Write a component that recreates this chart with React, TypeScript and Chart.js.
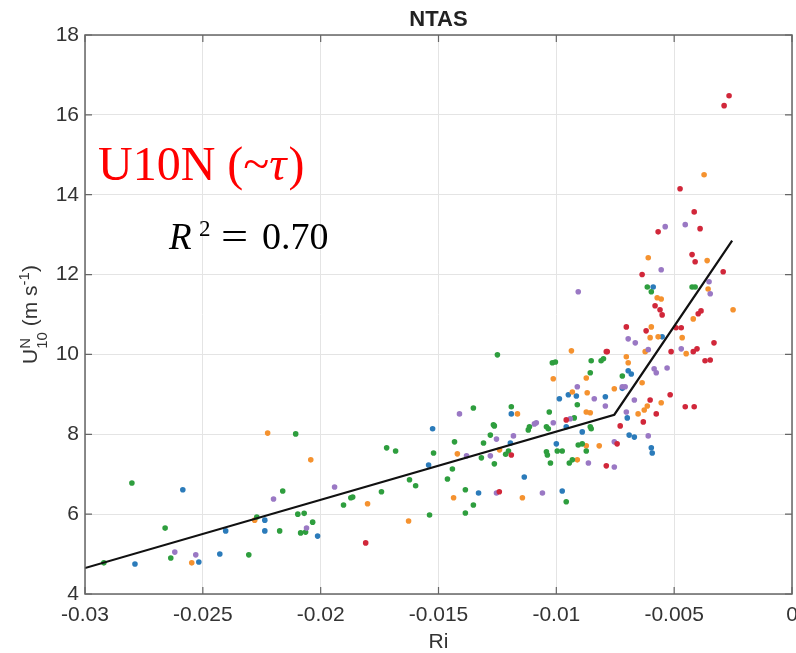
import React, { useEffect, useRef } from "react";
import { Chart, registerables } from "chart.js";

Chart.register(...registerables);

const chartTitle = "NTAS";
const xAxisLabel = "Ri";
const annotationMain = "U10N (~";
const annotationTau = "τ";
const annotationR2 = "0.70";
const xMin = -0.03;
const xMax = 0;
const xStep = 0.005;
const yMin = 4;
const yMax = 18;
const yStep = 2;

const blueRi = [-0.02585, -0.02237, -0.02237, -0.02403, -0.02013, -0.02517, -0.02428, -0.02788, -0.01525, -0.01542, -0.0133, -0.00949, -0.00915, -0.00987, -0.00792, -0.01191, -0.00958, -0.0089, -0.01195, -0.01, -0.01136, -0.00975, -0.00551, -0.00695, -0.00682, -0.0072, -0.00699, -0.00691, -0.00669, -0.00597, -0.00593, -0.00589];
const blueU = [6.61, 5.85, 5.58, 5.58, 5.45, 4.8, 5.0, 4.75, 8.14, 7.23, 6.53, 8.99, 8.96, 8.89, 8.94, 8.51, 8.19, 8.06, 7.78, 7.76, 6.93, 6.58, 10.44, 9.59, 9.51, 9.15, 8.41, 7.98, 7.93, 7.66, 7.53, 11.69];

const orangeRi = [-0.02225, -0.02042, -0.0228, -0.02547, -0.0142, -0.01801, -0.01436, -0.01627, -0.00936, -0.00873, -0.01013, -0.00932, -0.00869, -0.00754, -0.01165, -0.00873, -0.00856, -0.00873, -0.00818, -0.00911, -0.01144, -0.0025, -0.00419, -0.00597, -0.00602, -0.00568, -0.00466, -0.00623, -0.00449, -0.00703, -0.00695, -0.00636, -0.00555, -0.00614, -0.00627, -0.00653, -0.00373, -0.0061, -0.0036, -0.00356, -0.00572, -0.00555, -0.01241];
const orangeU = [8.03, 7.36, 5.85, 4.78, 7.51, 6.26, 6.41, 5.83, 10.09, 9.41, 9.39, 9.06, 9.04, 9.14, 8.51, 8.56, 8.54, 7.71, 7.71, 7.36, 6.41, 11.12, 10.89, 10.69, 10.42, 10.44, 10.42, 10.07, 10.02, 9.94, 9.79, 9.29, 8.79, 8.71, 8.61, 8.51, 14.5, 12.42, 12.35, 11.64, 11.42, 11.39, 7.61];

const greenRi = [-0.02106, -0.02801, -0.02161, -0.0266, -0.02271, -0.02174, -0.02097, -0.0207, -0.02034, -0.02085, -0.02064, -0.02636, -0.02305, -0.0292, -0.01352, -0.01263, -0.0128, -0.01432, -0.01309, -0.0172, -0.01682, -0.01521, -0.01318, -0.01263, -0.01441, -0.01623, -0.01597, -0.01462, -0.01864, -0.01872, -0.01742, -0.01903, -0.01386, -0.01352, -0.01386, -0.01538, -0.0125, -0.01017, -0.01004, -0.00852, -0.0081, -0.008, -0.00856, -0.00911, -0.01191, -0.0103, -0.00924, -0.01114, -0.01119, -0.01042, -0.01034, -0.00856, -0.00852, -0.01267, -0.01042, -0.01038, -0.00996, -0.00975, -0.00907, -0.0089, -0.00873, -0.00945, -0.00932, -0.01025, -0.00958, -0.01203, -0.01215, -0.0072, -0.00614, -0.00597, -0.00424, -0.00411];
const greenU = [8.01, 6.78, 6.58, 5.65, 5.93, 5.58, 6.0, 6.02, 5.8, 5.53, 5.55, 4.9, 4.98, 4.78, 8.66, 8.21, 7.98, 7.81, 7.78, 7.66, 7.58, 7.53, 7.41, 7.26, 7.13, 6.86, 6.71, 6.88, 6.43, 6.41, 6.56, 6.23, 6.61, 6.23, 6.03, 5.98, 9.99, 9.79, 9.81, 9.84, 9.84, 9.89, 9.54, 8.74, 8.69, 8.56, 8.41, 8.19, 8.11, 8.19, 8.14, 8.19, 8.14, 8.24, 7.56, 7.48, 7.58, 7.58, 7.73, 7.76, 7.58, 7.28, 7.36, 7.28, 6.31, 7.58, 7.5, 9.46, 11.69, 11.57, 11.69, 11.69];

const purpleRi = [-0.01941, -0.022, -0.0206, -0.02619, -0.0253, -0.01411, -0.01254, -0.01381, -0.0128, -0.01254, -0.00911, -0.00839, -0.00792, -0.00941, -0.01093, -0.01085, -0.01013, -0.01182, -0.00754, -0.00864, -0.00754, -0.01059, -0.00907, -0.00695, -0.00665, -0.0061, -0.0047, -0.00585, -0.00576, -0.0053, -0.0072, -0.00708, -0.00669, -0.00703, -0.0061, -0.00538, -0.00453, -0.00555, -0.00352, -0.00347];
const purpleU = [6.68, 6.38, 5.65, 5.05, 4.98, 8.51, 7.88, 7.46, 7.46, 6.53, 9.19, 8.89, 8.71, 8.39, 8.26, 8.29, 8.29, 7.96, 7.81, 7.28, 7.18, 6.53, 11.57, 10.39, 10.29, 10.12, 10.14, 9.64, 9.54, 9.66, 9.19, 9.19, 8.86, 8.56, 7.96, 13.2, 13.25, 12.12, 11.82, 11.52];

const redRi = [-0.01809, -0.00784, -0.00958, -0.01191, -0.00788, -0.00581, -0.0056, -0.00551, -0.00398, -0.00386, -0.00703, -0.00619, -0.00492, -0.0047, -0.00331, -0.00513, -0.00419, -0.00403, -0.00369, -0.00347, -0.00788, -0.00517, -0.00602, -0.00576, -0.00453, -0.00415, -0.00631, -0.00729, -0.00742, -0.00267, -0.00288, -0.00475, -0.00415, -0.0039, -0.00568, -0.00424, -0.00411, -0.00636, -0.00292, -0.01242];
const redU = [5.28, 10.07, 8.36, 7.48, 7.21, 11.22, 11.12, 10.99, 11.02, 11.09, 10.69, 10.59, 10.67, 10.67, 10.29, 10.07, 10.07, 10.14, 9.84, 9.86, 10.07, 8.99, 8.86, 8.51, 8.69, 8.69, 8.31, 8.21, 7.76, 16.48, 16.23, 14.15, 13.57, 13.15, 13.07, 12.5, 12.32, 12.0, 12.07, 6.56];

const fitRi = [-0.03, -0.00754, -0.00254];
const fitU = [4.65, 8.49, 12.85];

const COLORS = {
  blue: "#2b7bba",
  orange: "#f5922f",
  green: "#2e9e3e",
  purple: "#9a78c4",
  red: "#d1273a",
};

function pts(xs: number[], ys: number[]) {
  return xs.map((x, i) => ({ x, y: ys[i] }));
}

function fmt(v: number) {
  const r = Math.round(v * 1000) / 1000;
  if (Math.abs(r) < 1e-12) return "0";
  return String(r);
}

const drawPlugin = {
  id: "customDraw",
  afterDraw(chart: any) {
    const ctx = chart.ctx as CanvasRenderingContext2D;
    const { left, right, top, bottom } = chart.chartArea;
    const xs = chart.scales.x;
    const ys = chart.scales.y;
    ctx.save();
    ctx.strokeStyle = "#666666";
    ctx.lineWidth = 1.5;
    ctx.strokeRect(left, top, right - left, bottom - top);
    ctx.lineWidth = 1.2;
    const tl = 7;
    xs.ticks.forEach((t: any) => {
      const px = xs.getPixelForValue(t.value);
      ctx.beginPath();
      ctx.moveTo(px, bottom);
      ctx.lineTo(px, bottom - tl);
      ctx.moveTo(px, top);
      ctx.lineTo(px, top + tl);
      ctx.stroke();
    });
    ys.ticks.forEach((t: any) => {
      const py = ys.getPixelForValue(t.value);
      ctx.beginPath();
      ctx.moveTo(left, py);
      ctx.lineTo(left + tl, py);
      ctx.moveTo(right, py);
      ctx.lineTo(right - tl, py);
      ctx.stroke();
    });

    ctx.fillStyle = "#222222";
    ctx.font = "bold 22px 'Liberation Sans', Arial, sans-serif";
    ctx.textAlign = "center";
    ctx.textBaseline = "alphabetic";
    ctx.fillText(chartTitle, (left + right) / 2, 26);

    ctx.fillStyle = "#333333";
    ctx.font = "21px 'Liberation Sans', Arial, sans-serif";
    ctx.fillText(xAxisLabel, (left + right) / 2, 648);

    ctx.save();
    ctx.translate(37, (top + bottom) / 2);
    ctx.rotate(-Math.PI / 2);
    ctx.textAlign = "left";
    const big = "21px 'Liberation Sans', Arial, sans-serif";
    const small = "15px 'Liberation Sans', Arial, sans-serif";
    ctx.font = big;
    const wU = ctx.measureText("U").width;
    const wMid = ctx.measureText(" (m s").width;
    const wClose = ctx.measureText(")").width;
    ctx.font = small;
    const wN = ctx.measureText("N").width;
    const w10 = ctx.measureText("10").width;
    const wSup = ctx.measureText("-1").width;
    const wStack = Math.max(wN, w10);
    const total = wU + wStack + wMid + wSup + wClose;
    let cx = -total / 2;
    ctx.font = big;
    ctx.fillText("U", cx, 0);
    cx += wU;
    ctx.font = small;
    ctx.fillText("N", cx, -7);
    ctx.fillText("10", cx, 10);
    cx += wStack;
    ctx.font = big;
    ctx.fillText(" (m s", cx, 0);
    cx += wMid;
    ctx.font = small;
    ctx.fillText("-1", cx, -8);
    cx += wSup;
    ctx.font = big;
    ctx.fillText(")", cx, 0);
    ctx.restore();

    // annotations
    ctx.textAlign = "left";
    ctx.fillStyle = "#ff0000";
    const serif = "'Liberation Serif', 'Times New Roman', serif";
    ctx.font = "48px " + serif;
    let ax = 98;
    ctx.fillText(annotationMain, ax, 180);
    ax += ctx.measureText(annotationMain).width;
    ctx.font = "italic 48px " + serif;
    ctx.fillText(annotationTau, ax, 180);
    ax += ctx.measureText(annotationTau).width + 2;
    ctx.font = "48px " + serif;
    ctx.fillText(")", ax, 180);

    ctx.fillStyle = "#000000";
    ctx.font = "italic 37px " + serif;
    ctx.fillText("R", 169, 249);
    ctx.font = "23px " + serif;
    ctx.fillText("2", 199, 236);
    ctx.font = "37px " + serif;
    ctx.save();
    ctx.translate(221, 249);
    ctx.scale(1.3, 1);
    ctx.fillText("=", 0, 0);
    ctx.restore();
    ctx.font = "38px " + serif;
    ctx.fillText(annotationR2, 262, 249);

    ctx.restore();
  },
};

export default function App() {
  const ref = useRef<HTMLCanvasElement | null>(null);
  useEffect(() => {
    if (!ref.current) return;
    const mk = (xs: number[], ys: number[], c: string) => ({
      type: "scatter" as const,
      data: pts(xs, ys),
      backgroundColor: c,
      borderColor: c,
      pointRadius: 2.8,
      pointBorderWidth: 0,
      showLine: false,
    });
    const chart = new Chart(ref.current, {
      type: "scatter",
      data: {
        datasets: [
          {
            type: "line" as const,
            data: pts(fitRi, fitU),
            borderColor: "#111111",
            borderWidth: 2.2,
            pointRadius: 0,
            fill: false,
            tension: 0,
            order: 0,
          } as any,
          { ...mk(blueRi, blueU, COLORS.blue), order: 5 },
          { ...mk(orangeRi, orangeU, COLORS.orange), order: 4 },
          { ...mk(greenRi, greenU, COLORS.green), order: 3 },
          { ...mk(purpleRi, purpleU, COLORS.purple), order: 2 },
          { ...mk(redRi, redU, COLORS.red), order: 1 },
        ],
      },
      options: {
        animation: false,
        responsive: false,
        maintainAspectRatio: false,
        layout: { padding: { top: 35, right: 3, left: 0, bottom: 0 } },
        plugins: {
          legend: { display: false },
          tooltip: { enabled: false },
          title: { display: false },
        },
        scales: {
          x: {
            type: "linear",
            min: xMin,
            max: xMax,
            afterBuildTicks: (scale: any) => {
              const t = [];
              for (let v = xMin; v <= xMax + 1e-9; v += xStep) t.push({ value: Math.round(v * 1000) / 1000 });
              scale.ticks = t;
            },
            afterFit: (scale: any) => {
              scale.height = 59;
              scale.paddingLeft = 0;
              scale.paddingRight = 0;
            },
            grid: { color: "#e4e4e4", lineWidth: 1, drawTicks: false },
            border: { display: false },
            ticks: {
              padding: 9,
              color: "#333333",
              font: { size: 21, family: "'Liberation Sans', Arial, sans-serif" },
              maxRotation: 0,
              autoSkip: false,
              callback: (v: any) => fmt(Number(v)),
            },
          },
          y: {
            type: "linear",
            min: yMin,
            max: yMax,
            ticks: {
              stepSize: yStep,
              padding: 6,
              color: "#333333",
              font: { size: 21, family: "'Liberation Sans', Arial, sans-serif" },
              callback: (v: any) => String(v),
            },
            afterFit: (scale: any) => {
              scale.width = 85;
              scale.paddingTop = 0;
              scale.paddingBottom = 0;
            },
            grid: { color: "#e4e4e4", lineWidth: 1, drawTicks: false },
            border: { display: false },
          },
        },
      },
      plugins: [drawPlugin],
    } as any);
    return () => chart.destroy();
  }, []);
  return (
    <div style={{ position: "absolute", left: 0, top: 0, width: 796, height: 653, background: "#ffffff" }}>
      <canvas ref={ref} width={796} height={653} style={{ width: 796, height: 653, display: "block" }} />
    </div>
  );
}
